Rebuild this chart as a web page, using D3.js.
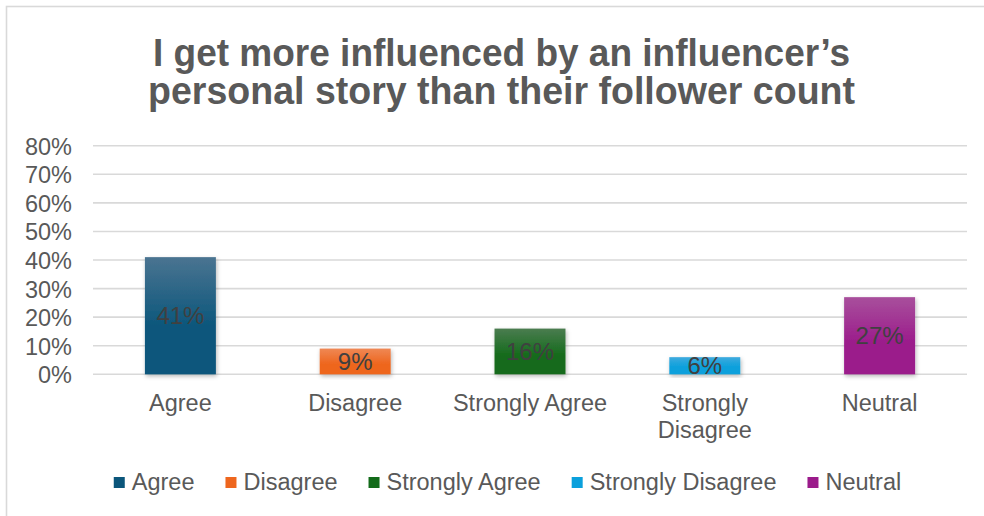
<!DOCTYPE html>
<html>
<head>
<meta charset="utf-8">
<script src="https://cdn.jsdelivr.net/npm/d3@7"></script>
<style>
  html, body { margin: 0; padding: 0; background: #fff; }
  svg { display: block; font-family: "Liberation Sans", Arial, sans-serif; }
</style>
</head>
<body>
<svg id="chart" width="984" height="516"></svg>
<script>
// Survey responses (share of respondents, %)
const categories = ["Agree", "Disagree", "Strongly Agree", "Strongly Disagree", "Neutral"];
const values = [41, 9, 16, 6, 27];
const colorsBase = ["#0b567b", "#ee661e", "#136b1a", "#0ba0dc", "#9b1b8b"];
const colorsTop  = ["#4a7491", "#ef8855", "#4b7c50", "#3eaade", "#a84f9c"];
const yTicks = [0, 10, 20, 30, 40, 50, 60, 70, 80];
const titleLines = ["I get more influenced by an influencer\u2019s", "personal story than their follower count"];

const svg = d3.select("#chart");
const W = 984, H = 516;

// Chart frame
svg.append("rect")
  .attr("x", 6.5).attr("y", 6.5)
  .attr("width", W + 10).attr("height", H + 10)
  .attr("fill", "#fff").attr("stroke", "#d9d9d9").attr("stroke-width", 1.6);

const defs = svg.append("defs");
const shadow = defs.append("filter").attr("id", "barShadow")
  .attr("x", "-20%").attr("y", "-20%").attr("width", "140%").attr("height", "140%");
shadow.append("feDropShadow")
  .attr("dx", 1).attr("dy", 2).attr("stdDeviation", 2)
  .attr("flood-color", "#000").attr("flood-opacity", 0.28);

categories.forEach((c, i) => {
  const g = defs.append("linearGradient").attr("id", "grad" + i)
    .attr("x1", 0).attr("y1", 0).attr("x2", 0).attr("y2", 1);
  g.append("stop").attr("offset", "0%").attr("stop-color", colorsTop[i]);
  g.append("stop").attr("offset", "60%").attr("stop-color", colorsBase[i]);
  g.append("stop").attr("offset", "100%").attr("stop-color", colorsBase[i]);
});

// Title (two lines, tightly set)
const title = svg.append("text")
  .attr("text-anchor", "middle")
  .attr("fill", "#595959")
  .attr("font-weight", "bold")
  .attr("font-size", 38);
title.selectAll("tspan").data(titleLines).join("tspan")
  .attr("x", 501.5)
  .attr("y", (d, i) => 66 + i * 38)
  .attr("textLength", (d, i) => i === 0 ? 697 : 707)
  .attr("lengthAdjust", "spacingAndGlyphs")
  .text(d => d);

// Scales
const x = d3.scaleBand()
  .domain(categories)
  .range([93, 967])
  .paddingInner(0.594)
  .paddingOuter(0.297);

const y = d3.scaleLinear().domain([0, 80]).range([374.3, 145.7]);

// Gridlines
svg.append("g").selectAll("line").data(yTicks).join("line")
  .attr("x1", 93).attr("x2", 967)
  .attr("y1", d => y(d)).attr("y2", d => y(d))
  .attr("stroke", "#d9d9d9").attr("stroke-width", 1.6);

// Y axis labels
const yAxis = d3.axisLeft(y).tickValues(yTicks).tickFormat(d => d + "%").tickSize(0).tickPadding(0);
const gy = svg.append("g").attr("transform", "translate(72,0)").call(yAxis);
gy.select(".domain").remove();
gy.selectAll("text")
  .attr("font-size", 23.5)
  .attr("font-family", "Liberation Sans, Arial, sans-serif")
  .attr("fill", "#595959")
  .attr("dy", "0.36em");

// Bars
svg.append("g").selectAll("rect").data(values).join("rect")
  .attr("x", (d, i) => x(categories[i]))
  .attr("width", x.bandwidth())
  .attr("y", d => y(d))
  .attr("height", d => y(0) - y(d))
  .attr("fill", (d, i) => `url(#grad${i})`)
  .attr("filter", "url(#barShadow)");

// Value labels centred in the bars
svg.append("g").selectAll("text").data(values).join("text")
  .attr("x", (d, i) => x(categories[i]) + x.bandwidth() / 2)
  .attr("y", d => (y(d) + y(0)) / 2)
  .attr("dy", "0.36em")
  .attr("text-anchor", "middle")
  .attr("font-size", 24)
  .attr("fill", "#404040")
  .text(d => d + "%");

// Category labels (wrapped where needed)
const catLines = { "Strongly Disagree": ["Strongly", "Disagree"] };
const xl = svg.append("g").selectAll("text").data(categories).join("text")
  .attr("text-anchor", "middle")
  .attr("font-size", 23.5)
  .attr("fill", "#595959");
xl.selectAll("tspan").data(d => (catLines[d] || [d]).map(t => ({ t, c: d }))).join("tspan")
  .attr("x", d => x(d.c) + x.bandwidth() / 2)
  .attr("y", (d, i) => 411 + i * 27)
  .text(d => d.t);

// Legend
const legend = svg.append("g");
const items = legend.selectAll("g").data(categories).join("g");
items.append("rect")
  .attr("width", 11).attr("height", 11)
  .attr("y", -5)
  .attr("fill", (d, i) => colorsBase[i]);
items.append("text")
  .attr("x", 18)
  .attr("dy", "0.36em")
  .attr("font-size", 23.5)
  .attr("fill", "#595959")
  .text(d => d);
let cx = 0;
items.each(function () {
  d3.select(this).attr("transform", `translate(${cx},0)`);
  cx += 18 + d3.select(this).select("text").node().getComputedTextLength() + 31;
});
const legendW = cx - 31;
legend.attr("transform", `translate(${507.5 - legendW / 2},482)`);
</script>
</body>
</html>
